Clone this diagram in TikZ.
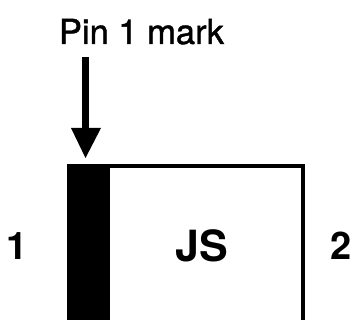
\documentclass[tikz,border=0pt]{standalone}
\usepackage{fontspec}
\setmainfont{TeX Gyre Heros}
\newfontfamily\heavyfont[FakeBold=1.2]{TeX Gyre Heros}
\tikzset{
  lbl/.style={inner sep=0pt,anchor=base,text=black},
  boxline/.style={draw=black,line width=4pt},
  pinmark/.style={fill=black,draw=none}
}
\begin{document}
\begin{tikzpicture}[x=1pt,y=-1pt]
\useasboundingbox (0,0) rectangle (353,320);
\clip (0,0) rectangle (353,320);
\fill[white] (0,0) rectangle (353,320);
% body, open at the bottom
\draw[boxline] (69,330) -- (69,166) -- (303,166) -- (303,330);
\fill[pinmark] (67,164) rectangle (110,330);
% labels
\node[lbl,font=\heavyfont\fontsize{34.5}{36}\selectfont] (mark) at (141.5,44) {Pin 1 mark};
\node[lbl,font=\fontsize{43}{45}\bfseries\selectfont] (js) at (202,261.5) {JS};
\node[lbl,font=\fontsize{38}{40}\bfseries\selectfont] (one) at (17,259.5) {1};
\node[lbl,font=\fontsize{38}{40}\bfseries\selectfont] (two) at (341.5,259.5) {2};
% arrow
\coordinate (tail) at (85.5,57);
\coordinate (neck) at (85.5,129);
\coordinate (tip) at (85.5,158);
\draw[black,line width=6.5pt] (tail) -- (neck);
\fill[black] (71,128) -- (101,128) -- (tip) -- cycle;
\end{tikzpicture}
\end{document}
